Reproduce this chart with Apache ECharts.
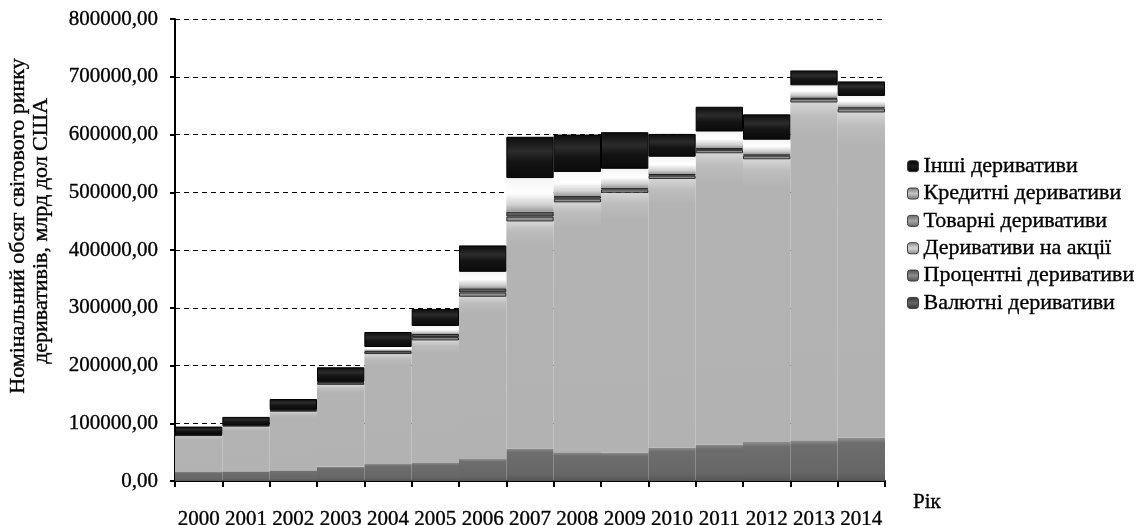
<!DOCTYPE html>
<html>
<head>
<meta charset="utf-8">
<script src="https://cdn.jsdelivr.net/npm/echarts@6/dist/echarts.min.js"></script>
<style>
  html, body { margin: 0; padding: 0; background: #ffffff; }
  #chart { width: 1141px; height: 525px; }
</style>
</head>
<body>
<div id="chart"></div>
<script>
// Notional amounts outstanding of the global OTC derivatives market, bn USD
const years = ['2000','2001','2002','2003','2004','2005','2006','2007','2008','2009','2010','2011','2012','2013','2014'];
const currency  = [15666, 16748, 18448, 24475, 29289, 31364, 38000, 56238, 49753, 49181, 57796, 63349, 67358, 70553, 74782];
const interest  = [62000, 77568, 101658, 141991, 190502, 211970, 281000, 393138, 432657, 449875, 465260, 504098, 489703, 584799, 563290];
const equity    = [1891, 1881, 2309, 3787, 4385, 5793, 7488, 8469, 6471, 5937, 5635, 5982, 6251, 6560, 7084];
const commodity = [662, 598, 923, 1406, 1443, 5434, 7115, 8455, 4427, 2944, 2922, 3091, 2587, 2206, 2206];
const credit    = [0, 0, 0, 0, 6396, 13908, 28650, 58244, 41883, 32693, 29898, 28626, 25069, 21020, 19462];
const other     = [14000, 14200, 18600, 25300, 26000, 29500, 45700, 71500, 64700, 63400, 39500, 42900, 43900, 25800, 25100];
const yTicks = { min: 0, max: 800000, interval: 100000 };

const names = {
  currency: 'Валютні деривативи',
  interest: 'Процентні деривативи',
  equity: 'Деривативи на акції',
  commodity: 'Товарні деривативи',
  credit: 'Кредитні деривативи',
  other: 'Інші деривативи'
};

const FONT = '"Liberation Serif", "DejaVu Serif", serif';
// a hair of outline makes the serif text as heavy as the printed one
const heavy = { textBorderColor: '#000', textBorderWidth: 0.35 };

function vgrad(stops) {
  return {
    type: 'linear', x: 0, y: 0, x2: 0, y2: 1,
    colorStops: stops.map(s => ({ offset: s[0], color: s[1] }))
  };
}

function layer(name, data, itemStyle) {
  return {
    name: name,
    type: 'bar',
    stack: 'total',
    data: data,
    barWidth: '100%',
    barCategoryGap: 0,
    itemStyle: itemStyle,
    emphasis: { disabled: true },
    animation: false
  };
}

const swatch = (c1, c2) => ({
  color: vgrad([[0, c1], [0.5, c2], [1, c1]]),
  borderColor: '#3a3a3a',
  borderWidth: 1
});

const chart = echarts.init(document.getElementById('chart'), null, { renderer: 'canvas' });

chart.setOption({
  animation: false,
  backgroundColor: '#ffffff',
  textStyle: { fontFamily: FONT },
  grid: { left: 175, right: 256, top: 19, bottom: 44, containLabel: false, outerBoundsMode: 'none' },
  legend: {
    orient: 'vertical',
    left: 907,
    top: 155,
    padding: 0,
    itemWidth: 11,
    itemHeight: 11,
    itemGap: 5,
    selectedMode: false,
    textStyle: Object.assign({ fontFamily: FONT, fontSize: 22, color: '#000', lineHeight: 22 }, heavy),
    data: [
      { name: names.other, itemStyle: swatch('#000000', '#1e1e1e') },
      { name: names.credit, itemStyle: swatch('#777777', '#c4c4c4') },
      { name: names.commodity, itemStyle: swatch('#666666', '#a6a6a6') },
      { name: names.equity, itemStyle: swatch('#8a8a8a', '#d6d6d6') },
      { name: names.interest, itemStyle: swatch('#4e4e4e', '#8c8c8c') },
      { name: names.currency, itemStyle: swatch('#333333', '#666666') }
    ]
  },
  xAxis: {
    type: 'category',
    data: years,
    boundaryGap: true,
    axisLine: { show: true, lineStyle: { color: '#000', width: 2 } },
    axisTick: { show: true, length: 6, lineStyle: { color: '#000', width: 2 } },
    axisLabel: Object.assign({ fontFamily: FONT, fontSize: 21, color: '#000', margin: 28, interval: 0 }, heavy),
    splitLine: { show: false }
  },
  yAxis: {
    type: 'value',
    min: yTicks.min,
    max: yTicks.max,
    interval: yTicks.interval,
    axisLine: { show: true, lineStyle: { color: '#000', width: 2 } },
    axisTick: { show: true, length: 5, lineStyle: { color: '#000', width: 2 } },
    axisLabel: Object.assign({
      fontFamily: FONT, fontSize: 21, color: '#000', margin: 17,
      formatter: v => v.toFixed(2).replace('.', ',')
    }, heavy),
    splitLine: { show: true, lineStyle: { color: '#000', width: 1, type: [5, 4] } }
  },
  series: [
    layer(names.currency, currency, {
      color: vgrad([[0, '#8e8e8e'], [0.12, '#6e6e6e'], [0.8, '#666666'], [1, '#555555']])
    }),
    layer(names.interest, interest, {
      color: vgrad([[0, '#d6d6d6'], [0.04, '#bdbdbd'], [0.1, '#b3b3b3'], [1, '#b2b2b2']])
    }),
    layer(names.equity, equity, {
      color: '#8f8f8f', borderColor: '#2a2a2a', borderWidth: 1
    }),
    layer(names.commodity, commodity, {
      color: '#5c5c5c', borderColor: '#222222', borderWidth: 1
    }),
    layer(names.credit, credit, {
      color: vgrad([[0, '#f4f4f4'], [0.45, '#ffffff'], [0.8, '#cfcfcf'], [1, '#9a9a9a']]),
      borderColor: '#222222', borderWidth: 0
    }),
    layer(names.other, other, {
      color: vgrad([[0, '#0c0c0c'], [0.35, '#2c2c2c'], [0.6, '#141414'], [1, '#0a0a0a']]),
      borderColor: '#000000', borderWidth: 1
    })
  ],
  graphic: [
    {
      type: 'text',
      x: 18, y: 226,
      rotation: Math.PI / 2,
      style: {
        text: 'Номінальний обсяг світового ринку',
        fontFamily: FONT, fontSize: 22, fill: '#000', stroke: '#000', lineWidth: 0.35,
        align: 'center', verticalAlign: 'middle'
      }
    },
    {
      type: 'text',
      x: 41, y: 231,
      rotation: Math.PI / 2,
      style: {
        text: 'деривативів, млрд дол США',
        fontFamily: FONT, fontSize: 22, fill: '#000', stroke: '#000', lineWidth: 0.35,
        align: 'center', verticalAlign: 'middle'
      }
    },
    {
      type: 'text',
      x: 913, y: 492,
      style: { text: 'Рік', fontFamily: FONT, fontSize: 21, fill: '#000', stroke: '#000', lineWidth: 0.35 }
    }
  ]
});
</script>
</body>
</html>
